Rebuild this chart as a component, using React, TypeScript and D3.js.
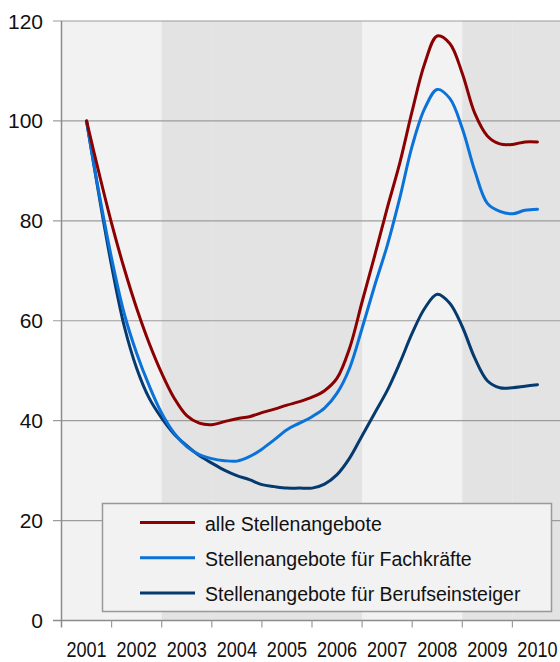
import { FC, useRef, useEffect } from 'react'
import * as d3 from 'd3'

// quarter points, in fractional years
const periods = [
  2001.5, 2001.75, 2002.0, 2002.25, 2002.5, 2002.75, 2003.0, 2003.25, 2003.5, 2003.75,
  2004.0, 2004.25, 2004.5, 2004.75, 2005.0, 2005.25, 2005.5, 2005.75, 2006.0, 2006.25,
  2006.5, 2006.75, 2007.0, 2007.25, 2007.5, 2007.75, 2008.0, 2008.25, 2008.5, 2008.75,
  2009.0, 2009.25, 2009.5, 2009.75, 2010.0, 2010.25, 2010.5,
]

const alleStellen = [
  100, 89.5, 79.5, 70.5, 62.5, 55.5, 49.5, 44.5, 41, 39.5,
  39.2, 39.8, 40.4, 40.8, 41.6, 42.3, 43.1, 43.8, 44.7, 46,
  48.5, 54.5, 63.8, 73, 82.5, 91.5, 102, 111.5, 117, 115.5,
  109.5, 101.5, 97, 95.4, 95.3, 95.8, 95.8,
]

const fachkraefte = [
  100, 85.5, 72.5, 61.5, 53.5, 47, 41.5, 37.5, 34.8, 33.2,
  32.4, 32, 31.9, 32.8, 34.3, 36.2, 38.2, 39.5, 40.8, 42.5,
  45.5, 50.5, 58.5, 67, 75, 84.5, 95, 102.5, 106.3, 104.5,
  98.5, 90, 83.5, 81.9, 81.4, 82.1, 82.3,
]

const berufseinsteiger = [
  100, 85, 71, 59, 50.5, 44.5, 40.5, 37.3, 35, 33,
  31.5, 30.1, 29, 28.2, 27.2, 26.8, 26.5, 26.5, 26.5, 27.3,
  29.2, 32.5, 37, 41.5, 46, 51.5, 57.5, 62.5, 65.3, 63.5,
  58.8, 52.5, 48, 46.6, 46.6, 46.9, 47.2,
]

const years = [2001, 2002, 2003, 2004, 2005, 2006, 2007, 2008, 2009, 2010]
const shadedYears = [2003, 2004, 2005, 2006, 2009, 2010]
const yTicks = [0, 20, 40, 60, 80, 100, 120]

const seriesNames = [
  'alle Stellenangebote',
  'Stellenangebote für Fachkräfte',
  'Stellenangebote für Berufseinsteiger',
]
const seriesColors = ['#8b0000', '#0a72d8', '#053a6e']

const App: FC = () => {
  const svgRef = useRef<SVGSVGElement>(null)

  useEffect(() => {
    if (!svgRef.current) return
    const svg = d3.select(svgRef.current)
    svg.selectAll('*').remove()

    const width = 560
    const height = 662
    svg.attr('width', width).attr('height', height)

    const font = "'Liberation Sans', Arial, sans-serif"
    const x = d3.scaleLinear().domain([2001, 2011]).range([61.5, 562.5])
    const y = d3.scaleLinear().domain([0, 120]).range([620.5, 21])

    // plot background
    svg.append('rect')
      .attr('x', x(2001)).attr('y', y(120))
      .attr('width', x(2011) - x(2001)).attr('height', y(0) - y(120))
      .attr('fill', '#f2f2f2')

    svg.selectAll('.band')
      .data(shadedYears)
      .join('rect')
      .attr('class', 'band')
      .attr('x', d => x(d))
      .attr('y', y(120))
      .attr('width', d => x(d + 1) - x(d))
      .attr('height', y(0) - y(120))
      .attr('fill', '#e3e3e3')

    // grid lines
    svg.selectAll('.grid')
      .data(yTicks)
      .join('line')
      .attr('class', 'grid')
      .attr('x1', 53).attr('x2', width)
      .attr('y1', d => y(d)).attr('y2', d => y(d))
      .attr('stroke', d => d === 0 ? '#8c8c8c' : '#9c9c9c')
      .attr('stroke-width', d => d === 0 ? 1.5 : 1.2)

    // axes
    svg.append('line')
      .attr('x1', x(2001)).attr('x2', x(2001))
      .attr('y1', y(120)).attr('y2', y(0) + 7)
      .attr('stroke', '#8c8c8c').attr('stroke-width', 1.5)

    svg.selectAll('.xtick')
      .data(years.slice(1))
      .join('line')
      .attr('class', 'xtick')
      .attr('x1', d => x(d)).attr('x2', d => x(d))
      .attr('y1', y(0)).attr('y2', y(0) + 7)
      .attr('stroke', '#9c9c9c').attr('stroke-width', 1.2)

    svg.selectAll('.ylabel')
      .data(yTicks)
      .join('text')
      .attr('class', 'ylabel')
      .attr('x', 43)
      .attr('y', d => y(d))
      .attr('dy', '0.36em')
      .attr('text-anchor', 'end')
      .attr('font-family', font)
      .attr('font-size', '21px')
      .attr('fill', '#111')
      .text(d => d)

    svg.selectAll('.xlabel')
      .data(years)
      .join('text')
      .attr('class', 'xlabel')
      .attr('transform', d => `translate(${x(d + 0.5)},657) scale(0.86,1.05)`)
      .attr('text-anchor', 'middle')
      .attr('font-family', font)
      .attr('font-size', '21px')
      .attr('fill', '#111')
      .text(d => d)

    // lines
    const allSeries = [alleStellen, fachkraefte, berufseinsteiger]
    const line = d3.line<number>()
      .x((_, i) => x(periods[i]))
      .y(d => y(d))
      .curve(d3.curveCatmullRom.alpha(0.5))

    ;[2, 1, 0].forEach(k => {
      svg.append('path')
        .attr('d', line(allSeries[k]))
        .attr('fill', 'none')
        .attr('stroke', seriesColors[k])
        .attr('stroke-width', 3)
        .attr('stroke-linejoin', 'round')
        .attr('stroke-linecap', 'round')
    })

    // legend
    const lg = svg.append('g')
    lg.append('rect')
      .attr('x', 102.5).attr('y', 503.5)
      .attr('width', 449).attr('height', 108)
      .attr('fill', '#f2f2f2')
      .attr('stroke', '#999')
      .attr('stroke-width', 1.5)

    seriesNames.forEach((name, i) => {
      const ly = 522.5 + i * 35.2
      lg.append('line')
        .attr('x1', 140).attr('x2', 195)
        .attr('y1', ly).attr('y2', ly)
        .attr('stroke', seriesColors[i])
        .attr('stroke-width', 3)
      lg.append('text')
        .attr('x', 205)
        .attr('y', ly + 4.5)
        .attr('dy', '0.18em')
        .attr('font-family', font)
        .attr('font-size', '19.5px')
        .attr('fill', '#111')
        .text(name)
    })
  }, [])

  return (
    <div style={{ position: 'absolute', left: 0, top: 0 }}>
      <svg ref={svgRef} style={{ display: 'block' }} />
    </div>
  )
}

export default App
